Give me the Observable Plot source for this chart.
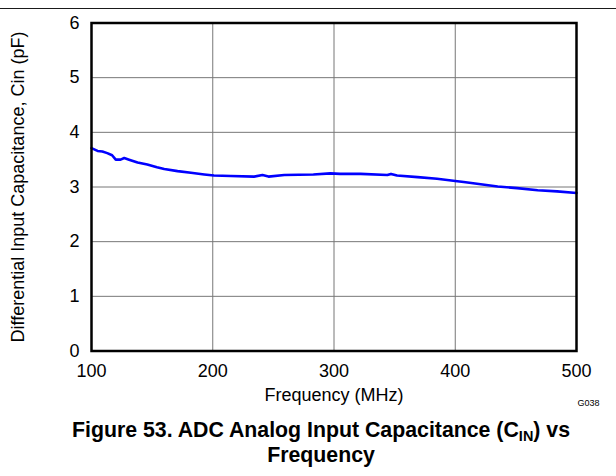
<!DOCTYPE html>
<html>
<head>
<meta charset="utf-8">
<script src="https://cdn.jsdelivr.net/npm/d3@7"></script>
<script src="https://cdn.jsdelivr.net/npm/@observablehq/plot@0.6"></script>
<style>
  html, body { margin: 0; padding: 0; background: #fff; }
  #wrap { position: relative; width: 616px; height: 476px; overflow: hidden; font-family: "Liberation Sans", Arial, sans-serif; }
  #rule { position: absolute; left: 0; top: 8px; width: 616px; height: 1px; background: #1a1a1a; }
  #chart { position: absolute; left: 0; top: 0; }
  #caption { position: absolute; left: 21px; top: 418px; width: 600px; text-align: center; font-weight: bold; font-size: 21.3px; line-height: 25px; color: #000; }
  #caption sub { font-size: 0.68em; line-height: 0; vertical-align: -0.25em; }
</style>
</head>
<body>
<div id="wrap">
  <div id="rule"></div>
  <div id="chart"></div>
  <div id="caption">Figure 53. ADC Analog Input Capacitance (C<sub>IN</sub>) vs<br>Frequency</div>
</div>
<script>
// Data
const freqMHz = [100, 105, 109, 113, 117, 120, 124, 127, 131, 138, 146, 154, 160, 171, 182, 193, 201, 215, 234, 241, 246, 259, 283, 297, 305, 322, 344, 347, 352, 369, 385, 400, 407, 421, 435, 451, 468, 484, 500];
const capPF   = [3.71, 3.66, 3.65, 3.62, 3.58, 3.50, 3.50, 3.53, 3.50, 3.45, 3.41, 3.36, 3.33, 3.29, 3.26, 3.23, 3.21, 3.20, 3.19, 3.22, 3.19, 3.22, 3.23, 3.25, 3.24, 3.24, 3.22, 3.24, 3.21, 3.18, 3.15, 3.11, 3.09, 3.05, 3.01, 2.98, 2.94, 2.92, 2.89];
const xTicks = [100, 200, 300, 400, 500];
const yTicks = [0, 1, 2, 3, 4, 5, 6];
const xTitle = "Frequency (MHz)";
const yTitle = "Differential Input Capacitance, Cin (pF)";
const figId = "G038";

const data = freqMHz.map((f, i) => ({f, c: capPF[i]}));
const font = "Liberation Sans, Arial, sans-serif";

const chart = Plot.plot({
  width: 616,
  height: 415,
  marginLeft: 91,
  marginRight: 40,
  marginTop: 22.5,
  marginBottom: 64.5,
  style: {fontFamily: font, color: "#000", background: "transparent"},
  x: {domain: [100, 500]},
  y: {domain: [0, 6]},
  marks: [
    Plot.gridX(xTicks.slice(1, -1), {stroke: "#777", strokeOpacity: 1, strokeWidth: 1}),
    Plot.gridY(yTicks.slice(1, -1), {stroke: "#777", strokeOpacity: 1, strokeWidth: 1}),
    Plot.line(data, {x: "f", y: "c", stroke: "#0000ff", strokeWidth: 2.6, curve: "linear"}),
    Plot.frame({stroke: "#000", strokeWidth: 2.5}),
    Plot.axisX({ticks: xTicks, tickSize: 0, tickPadding: 13, fontSize: 18, tickFormat: d => String(d), label: null}),
    Plot.axisY({ticks: yTicks, tickSize: 0, tickPadding: 12, fontSize: 18, tickFormat: d => String(d), label: null}),
    Plot.text([xTitle], {frameAnchor: "bottom", dy: 49.7, fontSize: 18, fill: "#000"}),
    Plot.text([yTitle], {frameAnchor: "left", textAnchor: "middle", rotate: -90, dx: -72.8, fontSize: 18, fill: "#000"}),
    Plot.text([figId], {frameAnchor: "bottom-right", textAnchor: "end", dx: 23, dy: 54.6, fontSize: 9, fill: "#000"})
  ]
});
document.getElementById("chart").appendChild(chart);
</script>
</body>
</html>
